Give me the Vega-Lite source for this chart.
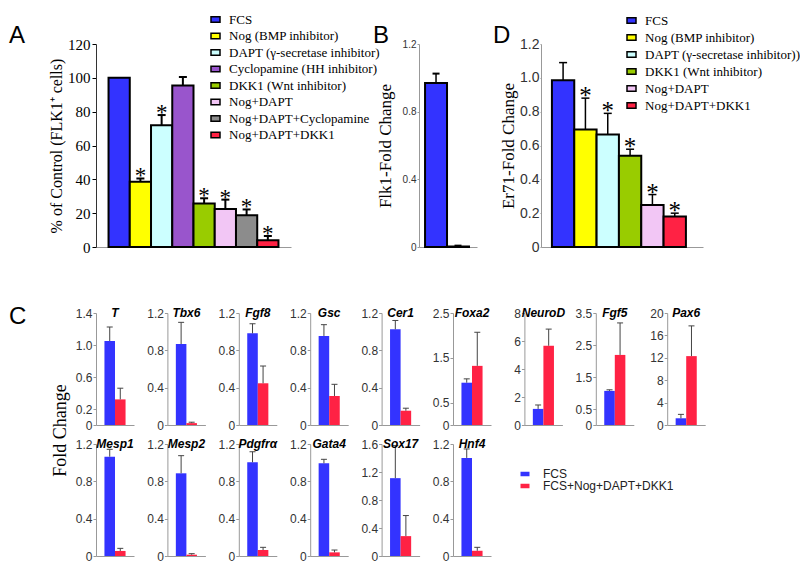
{
  "$schema": "https://vega.github.io/schema/vega-lite/v6.json",
  "background": "white",
  "padding": {"left": 9, "top": 11, "right": 5, "bottom": 5},
  "spacing": 50,
  "resolve": {"scale": {"fill": "independent"}},
  "config": {
    "view": {"stroke": null},
    "font": "Liberation Sans",
    "axisX": {"labels": false, "ticks": false, "domainColor": "#999", "grid": false},
    "axisY": {"grid": false, "labelFont": "Liberation Sans", "labelFontSize": 12, "labelColor": "#333", "tickSize": 3, "tickColor": "#999", "domainColor": "#999", "labelPadding": 1, "labelOverlap": false},
    "title": {"font": "Liberation Sans", "fontSize": 12, "fontWeight": "bold", "fontStyle": "italic", "color": "black", "anchor": "middle", "frame": "group", "offset": -13},
    "legend": {"padding": 0, "rowPadding": 0}
  },
  "datasets": {
    "A": [
      {"cond": "FCS", "value": 100, "err": null, "sig": false},
      {"cond": "Nog (BMP inhibitor)", "value": 38.5, "err": 40.5, "sig": true},
      {"cond": "DAPT (γ-secretase inhibitor)", "value": 72, "err": 78, "sig": true},
      {"cond": "Cyclopamine (HH inhibitor)", "value": 95.5, "err": 100.5, "sig": false},
      {"cond": "DKK1 (Wnt inhibitor)", "value": 25.7, "err": 28.8, "sig": true},
      {"cond": "Nog+DAPT", "value": 22.5, "err": 28, "sig": true},
      {"cond": "Nog+DAPT+Cyclopamine", "value": 18.8, "err": 22.2, "sig": true},
      {"cond": "Nog+DAPT+DKK1", "value": 4, "err": 6.5, "sig": true}
    ],
    "B": [
      {"cond": "FCS", "value": 0.97, "err": 1.025},
      {"cond": "Nog+DAPT+DKK1", "value": 0.003, "err": 0.008}
    ],
    "D": [
      {"cond": "FCS", "value": 0.985, "err": 1.09, "sig": false},
      {"cond": "Nog (BMP inhibitor)", "value": 0.695, "err": 0.88, "sig": true},
      {"cond": "DAPT (γ-secretase inhibitor))", "value": 0.665, "err": 0.79, "sig": true},
      {"cond": "DKK1 (Wnt inhibitor)", "value": 0.54, "err": 0.578, "sig": true},
      {"cond": "Nog+DAPT", "value": 0.248, "err": 0.31, "sig": true},
      {"cond": "Nog+DAPT+DKK1", "value": 0.18, "err": 0.2, "sig": true}
    ],
    "C": [
      {"gene": "T", "grp": "FCS", "value": 1.05, "err": 1.225},
      {"gene": "T", "grp": "FCS+Nog+DAPT+DKK1", "value": 0.32, "err": 0.46},
      {"gene": "Tbx6", "grp": "FCS", "value": 0.868, "err": 1.1},
      {"gene": "Tbx6", "grp": "FCS+Nog+DAPT+DKK1", "value": 0.02, "err": 0.03},
      {"gene": "Fgf8", "grp": "FCS", "value": 0.982, "err": 1.085},
      {"gene": "Fgf8", "grp": "FCS+Nog+DAPT+DKK1", "value": 0.447, "err": 0.632},
      {"gene": "Gsc", "grp": "FCS", "value": 0.954, "err": 1.075},
      {"gene": "Gsc", "grp": "FCS+Nog+DAPT+DKK1", "value": 0.311, "err": 0.436},
      {"gene": "Cer1", "grp": "FCS", "value": 1.025, "err": 1.12},
      {"gene": "Cer1", "grp": "FCS+Nog+DAPT+DKK1", "value": 0.153, "err": 0.18},
      {"gene": "Foxa2", "grp": "FCS", "value": 0.944, "err": 1.03},
      {"gene": "Foxa2", "grp": "FCS+Nog+DAPT+DKK1", "value": 1.32, "err": 2.07},
      {"gene": "NeuroD", "grp": "FCS", "value": 1.15, "err": 1.43},
      {"gene": "NeuroD", "grp": "FCS+Nog+DAPT+DKK1", "value": 5.66, "err": 6.85},
      {"gene": "Fgf5", "grp": "FCS", "value": 1.066, "err": 1.1},
      {"gene": "Fgf5", "grp": "FCS+Nog+DAPT+DKK1", "value": 2.19, "err": 3.19},
      {"gene": "Pax6", "grp": "FCS", "value": 1.2, "err": 1.9},
      {"gene": "Pax6", "grp": "FCS+Nog+DAPT+DKK1", "value": 12.3, "err": 17.7},
      {"gene": "Mesp1", "grp": "FCS", "value": 1.064, "err": 1.143},
      {"gene": "Mesp1", "grp": "FCS+Nog+DAPT+DKK1", "value": 0.054, "err": 0.082},
      {"gene": "Mesp2", "grp": "FCS", "value": 0.886, "err": 1.075},
      {"gene": "Mesp2", "grp": "FCS+Nog+DAPT+DKK1", "value": 0.014, "err": 0.025},
      {"gene": "Pdgfrα", "grp": "FCS", "value": 1.004, "err": 1.118},
      {"gene": "Pdgfrα", "grp": "FCS+Nog+DAPT+DKK1", "value": 0.064, "err": 0.093},
      {"gene": "Gata4", "grp": "FCS", "value": 0.993, "err": 1.036},
      {"gene": "Gata4", "grp": "FCS+Nog+DAPT+DKK1", "value": 0.039, "err": 0.064},
      {"gene": "Sox17", "grp": "FCS", "value": 1.112, "err": 1.577},
      {"gene": "Sox17", "grp": "FCS+Nog+DAPT+DKK1", "value": 0.284, "err": 0.578},
      {"gene": "Hnf4", "grp": "FCS", "value": 1.051, "err": 1.147},
      {"gene": "Hnf4", "grp": "FCS+Nog+DAPT+DKK1", "value": 0.056, "err": 0.093}
    ]
  },
  "vconcat": [
    {
      "spacing": 10, "bounds": "flush",
      "resolve": {"scale": {"fill": "independent"}},
      "hconcat": [
        {
          "width": 195, "height": 203,
          "data": {"name": "A"},
          "title": {"text": "A", "anchor": "start", "frame": "group", "dx": -87, "offset": -37, "font": "Liberation Sans", "fontSize": 24, "fontWeight": "normal", "fontStyle": "normal"},
          "encoding": {"x": {"field": "cond", "type": "nominal", "sort": null, "scale": {"paddingInner": 0, "paddingOuter": 0.59}, "axis": {"title": null}}},
          "layer": [
            {
              "mark": {"type": "bar", "stroke": "black", "strokeWidth": 2},
              "encoding": {
                "y": {"field": "value", "type": "quantitative", "scale": {"domain": [0, 120], "nice": false},
                  "axis": {"values": [0, 20, 40, 60, 80, 100, 120], "tickCount": 50, "labelOverlap": false, "labelFont": "Liberation Serif", "labelFontSize": 15, "labelColor": "black", "tickColor": "black", "domainColor": "#333", "tickSize": 4, "labelPadding": 2,
                    "title": "% of Control (FLK1⁺ cells)", "titleFont": "Liberation Serif", "titleFontSize": 16, "titleFontWeight": "normal", "titleColor": "black", "titlePadding": 3}},
                "fill": {"field": "cond", "type": "nominal", "sort": null,
                  "scale": {"domain": ["FCS", "Nog (BMP inhibitor)", "DAPT (γ-secretase inhibitor)", "Cyclopamine (HH inhibitor)", "DKK1 (Wnt inhibitor)", "Nog+DAPT", "Nog+DAPT+Cyclopamine", "Nog+DAPT+DKK1"],
                    "range": ["#3333ff", "#ffff00", "#ccffff", "#9955cc", "#99cc00", "#f2c6f5", "#8c8c8c", "#ff2244"]},
                  "legend": {"orient": "none", "direction": "vertical", "legendX": 111, "legendY": -33, "title": null, "symbolType": "M-0.6,-0.36H0.6V0.36H-0.6Z", "symbolSize": 225, "symbolStrokeColor": "black", "symbolStrokeWidth": 1.5, "labelFont": "Liberation Serif", "labelFontSize": 13, "labelColor": "black", "labelOffset": 5, "rowPadding": 0.5, "labelLimit": 300}}
              }
            },
            {
              "transform": [{"filter": "datum.err != null"}],
              "mark": {"type": "rule", "color": "black", "strokeWidth": 2},
              "encoding": {"y": {"field": "value", "type": "quantitative"}, "y2": {"field": "err"}}
            },
            {
              "transform": [{"filter": "datum.err != null"}],
              "mark": {"type": "tick", "color": "black", "size": 8, "thickness": 2, "opacity": 1},
              "encoding": {"y": {"field": "err", "type": "quantitative"}}
            },
            {
              "transform": [{"filter": "datum.sig"}],
              "mark": {"type": "text", "text": "*", "font": "Liberation Serif", "fontSize": 23, "baseline": "alphabetic", "dy": 5, "color": "black"},
              "encoding": {"y": {"field": "err", "type": "quantitative"}}
            }
          ]
        },
        {"width": 108, "height": 203, "data": {"values": []}, "mark": "point"},
        {
          "width": 58, "height": 203,
          "data": {"name": "B"},
          "title": {"text": "B", "anchor": "start", "frame": "group", "dx": -46, "offset": -9, "font": "Liberation Sans", "fontSize": 24, "fontWeight": "normal", "fontStyle": "normal"},
          "encoding": {"x": {"field": "cond", "type": "nominal", "sort": null, "scale": {"paddingInner": 0, "paddingOuter": 0.32, "align": 0.43}, "axis": {"title": null}}},
          "layer": [
            {
              "mark": {"type": "bar", "stroke": "black", "strokeWidth": 2},
              "encoding": {
                "y": {"field": "value", "type": "quantitative", "scale": {"domain": [0, 1.2], "nice": false},
                  "axis": {"values": [0, 0.4, 0.8, 1.2], "tickCount": 50, "labelOverlap": false, "format": ".1f", "labelExpr": "datum.value === 0 ? '0' : datum.label", "labelFontSize": 10, "tickSize": 2, "labelPadding": 1,
                    "title": "Flk1-Fold Change", "titleFont": "Liberation Serif", "titleFontSize": 17, "titleFontWeight": "normal", "titleColor": "black", "titlePadding": 8}},
                "fill": {"field": "cond", "type": "nominal", "sort": null, "scale": {"domain": ["FCS", "Nog+DAPT+DKK1"], "range": ["#3333ff", "#ff2244"]}, "legend": null}
              }
            },
            {
              "mark": {"type": "rule", "color": "black", "strokeWidth": 1.5},
              "encoding": {"y": {"field": "value", "type": "quantitative"}, "y2": {"field": "err"}}
            },
            {
              "mark": {"type": "tick", "color": "black", "size": 7, "thickness": 2, "opacity": 1},
              "encoding": {"y": {"field": "err", "type": "quantitative"}}
            }
          ]
        },
        {"width": 44, "height": 203, "data": {"values": []}, "mark": "point"},
        {
          "width": 162, "height": 203,
          "data": {"name": "D"},
          "title": {"text": "D", "anchor": "start", "frame": "group", "dx": -48, "offset": -36, "font": "Liberation Sans", "fontSize": 24, "fontWeight": "normal", "fontStyle": "normal"},
          "encoding": {"x": {"field": "cond", "type": "nominal", "sort": null, "scale": {"paddingInner": 0, "paddingOuter": 0.627, "align": 0.39}, "axis": {"title": null}}},
          "layer": [
            {
              "mark": {"type": "bar", "stroke": "black", "strokeWidth": 2},
              "encoding": {
                "y": {"field": "value", "type": "quantitative", "scale": {"domain": [0, 1.2], "nice": false},
                  "axis": {"values": [0, 0.2, 0.4, 0.6, 0.8, 1, 1.2], "tickCount": 50, "labelOverlap": false, "format": ".1f", "labelExpr": "datum.value === 0 ? '0' : datum.label", "labelFontSize": 14, "tickSize": 1, "labelPadding": 1,
                    "title": "Er71-Fold Change", "titleFont": "Liberation Serif", "titleFontSize": 17, "titleFontWeight": "normal", "titleColor": "black", "titlePadding": 2}},
                "fill": {"field": "cond", "type": "nominal", "sort": null,
                  "scale": {"domain": ["FCS", "Nog (BMP inhibitor)", "DAPT (γ-secretase inhibitor))", "DKK1 (Wnt inhibitor)", "Nog+DAPT", "Nog+DAPT+DKK1"],
                    "range": ["#3333ff", "#ffff00", "#ccffff", "#99cc00", "#f2c6f5", "#ff2244"]},
                  "legend": {"orient": "none", "direction": "vertical", "legendX": 82, "legendY": -32, "title": null, "symbolType": "M-0.6,-0.36H0.6V0.36H-0.6Z", "symbolSize": 225, "symbolStrokeColor": "black", "symbolStrokeWidth": 1.5, "labelFont": "Liberation Serif", "labelFontSize": 13, "labelColor": "black", "labelOffset": 5, "rowPadding": 1, "labelLimit": 300}}
              }
            },
            {
              "mark": {"type": "rule", "color": "black", "strokeWidth": 1.5},
              "encoding": {"y": {"field": "value", "type": "quantitative"}, "y2": {"field": "err"}}
            },
            {
              "mark": {"type": "tick", "color": "black", "size": 8, "thickness": 1.5, "opacity": 1},
              "encoding": {"y": {"field": "err", "type": "quantitative"}}
            },
            {
              "transform": [{"filter": "datum.sig"}],
              "mark": {"type": "text", "text": "*", "font": "Liberation Serif", "fontSize": 25, "baseline": "alphabetic", "dy": 6, "color": "black"},
              "encoding": {"y": {"field": "err", "type": "quantitative"}}
            }
          ]
        }
      ]
    },
    {
      "data": {"name": "C"},
      "title": {"text": "C", "anchor": "start", "frame": "group", "dx": -87, "offset": -22, "font": "Liberation Sans", "fontSize": 24, "fontWeight": "normal", "fontStyle": "normal"},
      "columns": 9,
      "spacing": {"row": 19, "column": 33.4},
      "bounds": "flush",
      "concat": [
        {"width": 38, "height": 112, "title": {"text": "T"}, "transform": [{"filter": "datum.gene === 'T'"}],
          "encoding": {"x": {"field": "grp", "type": "nominal", "sort": null, "scale": {"paddingInner": 0, "paddingOuter": 0.8}, "axis": {"title": null}}},
          "layer": [
            {"mark": "bar", "encoding": {"y": {"field": "value", "type": "quantitative", "scale": {"domain": [0, 1.4], "nice": false},
                "axis": {"values": [0, 0.2, 0.6, 1, 1.4], "tickCount": 50, "labelOverlap": false, "format": ".1f", "labelExpr": "datum.value === 0 ? '0' : datum.label",
                  "title": "Fold Change", "titleFont": "Liberation Serif", "titleFontSize": 18, "titleFontWeight": "normal", "titleColor": "black", "titleAngle": -90, "titleAlign": "center", "titleBaseline": "middle", "titleX": -36, "titleY": 117}},
              "fill": {"field": "grp", "type": "nominal", "sort": null, "scale": {"domain": ["FCS", "FCS+Nog+DAPT+DKK1"], "range": ["#3333ff", "#ff2244"]},
                "legend": {"orient": "none", "direction": "vertical", "legendX": 423, "legendY": 155, "title": null, "symbolType": "M-0.75,-0.375H0.75V0.375H-0.75Z", "symbolSize": 144, "symbolStrokeWidth": 0, "labelFont": "Liberation Sans", "labelFontSize": 12, "labelColor": "#222", "labelOffset": 12, "rowPadding": 0, "labelLimit": 300}}}},
            {"mark": {"type": "rule", "color": "#444", "strokeWidth": 1}, "encoding": {"y": {"field": "value", "type": "quantitative"}, "y2": {"field": "err"}}},
            {"mark": {"type": "tick", "color": "#444", "size": 6, "thickness": 1, "opacity": 1}, "encoding": {"y": {"field": "err", "type": "quantitative"}}}
          ]},
        {"width": 38, "height": 112, "title": {"text": "Tbx6"}, "transform": [{"filter": "datum.gene === 'Tbx6'"}],
          "encoding": {"x": {"field": "grp", "type": "nominal", "sort": null, "scale": {"paddingInner": 0, "paddingOuter": 0.8}, "axis": {"title": null}}},
          "layer": [
            {"mark": "bar", "encoding": {"y": {"field": "value", "type": "quantitative", "scale": {"domain": [0, 1.2], "nice": false}, "axis": {"title": null, "values": [0, 0.4, 0.8, 1.2], "tickCount": 50, "labelOverlap": false, "format": ".1f", "labelExpr": "datum.value === 0 ? '0' : datum.label"}},
              "fill": {"field": "grp", "type": "nominal", "sort": null, "scale": {"domain": ["FCS", "FCS+Nog+DAPT+DKK1"], "range": ["#3333ff", "#ff2244"]}}}},
            {"mark": {"type": "rule", "color": "#444", "strokeWidth": 1}, "encoding": {"y": {"field": "value", "type": "quantitative"}, "y2": {"field": "err"}}},
            {"mark": {"type": "tick", "color": "#444", "size": 6, "thickness": 1, "opacity": 1}, "encoding": {"y": {"field": "err", "type": "quantitative"}}}
          ]},
        {"width": 38, "height": 112, "title": {"text": "Fgf8"}, "transform": [{"filter": "datum.gene === 'Fgf8'"}],
          "encoding": {"x": {"field": "grp", "type": "nominal", "sort": null, "scale": {"paddingInner": 0, "paddingOuter": 0.8}, "axis": {"title": null}}},
          "layer": [
            {"mark": "bar", "encoding": {"y": {"field": "value", "type": "quantitative", "scale": {"domain": [0, 1.2], "nice": false}, "axis": {"title": null, "values": [0, 0.4, 0.8, 1.2], "tickCount": 50, "labelOverlap": false, "format": ".1f", "labelExpr": "datum.value === 0 ? '0' : datum.label"}},
              "fill": {"field": "grp", "type": "nominal", "sort": null, "scale": {"domain": ["FCS", "FCS+Nog+DAPT+DKK1"], "range": ["#3333ff", "#ff2244"]}}}},
            {"mark": {"type": "rule", "color": "#444", "strokeWidth": 1}, "encoding": {"y": {"field": "value", "type": "quantitative"}, "y2": {"field": "err"}}},
            {"mark": {"type": "tick", "color": "#444", "size": 6, "thickness": 1, "opacity": 1}, "encoding": {"y": {"field": "err", "type": "quantitative"}}}
          ]},
        {"width": 38, "height": 112, "title": {"text": "Gsc"}, "transform": [{"filter": "datum.gene === 'Gsc'"}],
          "encoding": {"x": {"field": "grp", "type": "nominal", "sort": null, "scale": {"paddingInner": 0, "paddingOuter": 0.8}, "axis": {"title": null}}},
          "layer": [
            {"mark": "bar", "encoding": {"y": {"field": "value", "type": "quantitative", "scale": {"domain": [0, 1.2], "nice": false}, "axis": {"title": null, "values": [0, 0.4, 0.8, 1.2], "tickCount": 50, "labelOverlap": false, "format": ".1f", "labelExpr": "datum.value === 0 ? '0' : datum.label"}},
              "fill": {"field": "grp", "type": "nominal", "sort": null, "scale": {"domain": ["FCS", "FCS+Nog+DAPT+DKK1"], "range": ["#3333ff", "#ff2244"]}}}},
            {"mark": {"type": "rule", "color": "#444", "strokeWidth": 1}, "encoding": {"y": {"field": "value", "type": "quantitative"}, "y2": {"field": "err"}}},
            {"mark": {"type": "tick", "color": "#444", "size": 6, "thickness": 1, "opacity": 1}, "encoding": {"y": {"field": "err", "type": "quantitative"}}}
          ]},
        {"width": 38, "height": 112, "title": {"text": "Cer1"}, "transform": [{"filter": "datum.gene === 'Cer1'"}],
          "encoding": {"x": {"field": "grp", "type": "nominal", "sort": null, "scale": {"paddingInner": 0, "paddingOuter": 0.8}, "axis": {"title": null}}},
          "layer": [
            {"mark": "bar", "encoding": {"y": {"field": "value", "type": "quantitative", "scale": {"domain": [0, 1.2], "nice": false}, "axis": {"title": null, "values": [0, 0.4, 0.8, 1.2], "tickCount": 50, "labelOverlap": false, "format": ".1f", "labelExpr": "datum.value === 0 ? '0' : datum.label"}},
              "fill": {"field": "grp", "type": "nominal", "sort": null, "scale": {"domain": ["FCS", "FCS+Nog+DAPT+DKK1"], "range": ["#3333ff", "#ff2244"]}}}},
            {"mark": {"type": "rule", "color": "#444", "strokeWidth": 1}, "encoding": {"y": {"field": "value", "type": "quantitative"}, "y2": {"field": "err"}}},
            {"mark": {"type": "tick", "color": "#444", "size": 6, "thickness": 1, "opacity": 1}, "encoding": {"y": {"field": "err", "type": "quantitative"}}}
          ]},
        {"width": 38, "height": 112, "title": {"text": "Foxa2"}, "transform": [{"filter": "datum.gene === 'Foxa2'"}],
          "encoding": {"x": {"field": "grp", "type": "nominal", "sort": null, "scale": {"paddingInner": 0, "paddingOuter": 0.8}, "axis": {"title": null}}},
          "layer": [
            {"mark": "bar", "encoding": {"y": {"field": "value", "type": "quantitative", "scale": {"domain": [0, 2.5], "nice": false}, "axis": {"title": null, "values": [0, 0.5, 1.5, 2.5], "tickCount": 50, "labelOverlap": false, "format": ".1f", "labelExpr": "datum.value === 0 ? '0' : datum.label"}},
              "fill": {"field": "grp", "type": "nominal", "sort": null, "scale": {"domain": ["FCS", "FCS+Nog+DAPT+DKK1"], "range": ["#3333ff", "#ff2244"]}}}},
            {"mark": {"type": "rule", "color": "#444", "strokeWidth": 1}, "encoding": {"y": {"field": "value", "type": "quantitative"}, "y2": {"field": "err"}}},
            {"mark": {"type": "tick", "color": "#444", "size": 6, "thickness": 1, "opacity": 1}, "encoding": {"y": {"field": "err", "type": "quantitative"}}}
          ]},
        {"width": 38, "height": 112, "title": {"text": "NeuroD"}, "transform": [{"filter": "datum.gene === 'NeuroD'"}],
          "encoding": {"x": {"field": "grp", "type": "nominal", "sort": null, "scale": {"paddingInner": 0, "paddingOuter": 0.8}, "axis": {"title": null}}},
          "layer": [
            {"mark": "bar", "encoding": {"y": {"field": "value", "type": "quantitative", "scale": {"domain": [0, 8], "nice": false}, "axis": {"title": null, "values": [0, 2, 4, 6, 8], "tickCount": 50, "labelOverlap": false, "format": "d"}},
              "fill": {"field": "grp", "type": "nominal", "sort": null, "scale": {"domain": ["FCS", "FCS+Nog+DAPT+DKK1"], "range": ["#3333ff", "#ff2244"]}}}},
            {"mark": {"type": "rule", "color": "#444", "strokeWidth": 1}, "encoding": {"y": {"field": "value", "type": "quantitative"}, "y2": {"field": "err"}}},
            {"mark": {"type": "tick", "color": "#444", "size": 6, "thickness": 1, "opacity": 1}, "encoding": {"y": {"field": "err", "type": "quantitative"}}}
          ]},
        {"width": 38, "height": 112, "title": {"text": "Fgf5"}, "transform": [{"filter": "datum.gene === 'Fgf5'"}],
          "encoding": {"x": {"field": "grp", "type": "nominal", "sort": null, "scale": {"paddingInner": 0, "paddingOuter": 0.8}, "axis": {"title": null}}},
          "layer": [
            {"mark": "bar", "encoding": {"y": {"field": "value", "type": "quantitative", "scale": {"domain": [0, 3.5], "nice": false}, "axis": {"title": null, "values": [0, 0.5, 1.5, 2.5, 3.5], "tickCount": 50, "labelOverlap": false, "format": ".1f", "labelExpr": "datum.value === 0 ? '0' : datum.label"}},
              "fill": {"field": "grp", "type": "nominal", "sort": null, "scale": {"domain": ["FCS", "FCS+Nog+DAPT+DKK1"], "range": ["#3333ff", "#ff2244"]}}}},
            {"mark": {"type": "rule", "color": "#444", "strokeWidth": 1}, "encoding": {"y": {"field": "value", "type": "quantitative"}, "y2": {"field": "err"}}},
            {"mark": {"type": "tick", "color": "#444", "size": 6, "thickness": 1, "opacity": 1}, "encoding": {"y": {"field": "err", "type": "quantitative"}}}
          ]},
        {"width": 38, "height": 112, "title": {"text": "Pax6"}, "transform": [{"filter": "datum.gene === 'Pax6'"}],
          "encoding": {"x": {"field": "grp", "type": "nominal", "sort": null, "scale": {"paddingInner": 0, "paddingOuter": 0.8}, "axis": {"title": null}}},
          "layer": [
            {"mark": "bar", "encoding": {"y": {"field": "value", "type": "quantitative", "scale": {"domain": [0, 20], "nice": false}, "axis": {"title": null, "values": [0, 4, 8, 12, 16, 20], "tickCount": 50, "labelOverlap": false, "format": "d"}},
              "fill": {"field": "grp", "type": "nominal", "sort": null, "scale": {"domain": ["FCS", "FCS+Nog+DAPT+DKK1"], "range": ["#3333ff", "#ff2244"]}}}},
            {"mark": {"type": "rule", "color": "#444", "strokeWidth": 1}, "encoding": {"y": {"field": "value", "type": "quantitative"}, "y2": {"field": "err"}}},
            {"mark": {"type": "tick", "color": "#444", "size": 6, "thickness": 1, "opacity": 1}, "encoding": {"y": {"field": "err", "type": "quantitative"}}}
          ]},
        {"width": 38, "height": 112, "title": {"text": "Mesp1"}, "transform": [{"filter": "datum.gene === 'Mesp1'"}],
          "encoding": {"x": {"field": "grp", "type": "nominal", "sort": null, "scale": {"paddingInner": 0, "paddingOuter": 0.8}, "axis": {"title": null}}},
          "layer": [
            {"mark": "bar", "encoding": {"y": {"field": "value", "type": "quantitative", "scale": {"domain": [0, 1.2], "nice": false}, "axis": {"title": null, "values": [0, 0.4, 0.8, 1.2], "tickCount": 50, "labelOverlap": false, "format": ".1f", "labelExpr": "datum.value === 0 ? '0' : datum.label"}},
              "fill": {"field": "grp", "type": "nominal", "sort": null, "scale": {"domain": ["FCS", "FCS+Nog+DAPT+DKK1"], "range": ["#3333ff", "#ff2244"]}}}},
            {"mark": {"type": "rule", "color": "#444", "strokeWidth": 1}, "encoding": {"y": {"field": "value", "type": "quantitative"}, "y2": {"field": "err"}}},
            {"mark": {"type": "tick", "color": "#444", "size": 6, "thickness": 1, "opacity": 1}, "encoding": {"y": {"field": "err", "type": "quantitative"}}}
          ]},
        {"width": 38, "height": 112, "title": {"text": "Mesp2"}, "transform": [{"filter": "datum.gene === 'Mesp2'"}],
          "encoding": {"x": {"field": "grp", "type": "nominal", "sort": null, "scale": {"paddingInner": 0, "paddingOuter": 0.8}, "axis": {"title": null}}},
          "layer": [
            {"mark": "bar", "encoding": {"y": {"field": "value", "type": "quantitative", "scale": {"domain": [0, 1.2], "nice": false}, "axis": {"title": null, "values": [0, 0.4, 0.8, 1.2], "tickCount": 50, "labelOverlap": false, "format": ".1f", "labelExpr": "datum.value === 0 ? '0' : datum.label"}},
              "fill": {"field": "grp", "type": "nominal", "sort": null, "scale": {"domain": ["FCS", "FCS+Nog+DAPT+DKK1"], "range": ["#3333ff", "#ff2244"]}}}},
            {"mark": {"type": "rule", "color": "#444", "strokeWidth": 1}, "encoding": {"y": {"field": "value", "type": "quantitative"}, "y2": {"field": "err"}}},
            {"mark": {"type": "tick", "color": "#444", "size": 6, "thickness": 1, "opacity": 1}, "encoding": {"y": {"field": "err", "type": "quantitative"}}}
          ]},
        {"width": 38, "height": 112, "title": {"text": "Pdgfrα"}, "transform": [{"filter": "datum.gene === 'Pdgfrα'"}],
          "encoding": {"x": {"field": "grp", "type": "nominal", "sort": null, "scale": {"paddingInner": 0, "paddingOuter": 0.8}, "axis": {"title": null}}},
          "layer": [
            {"mark": "bar", "encoding": {"y": {"field": "value", "type": "quantitative", "scale": {"domain": [0, 1.2], "nice": false}, "axis": {"title": null, "values": [0, 0.4, 0.8, 1.2], "tickCount": 50, "labelOverlap": false, "format": ".1f", "labelExpr": "datum.value === 0 ? '0' : datum.label"}},
              "fill": {"field": "grp", "type": "nominal", "sort": null, "scale": {"domain": ["FCS", "FCS+Nog+DAPT+DKK1"], "range": ["#3333ff", "#ff2244"]}}}},
            {"mark": {"type": "rule", "color": "#444", "strokeWidth": 1}, "encoding": {"y": {"field": "value", "type": "quantitative"}, "y2": {"field": "err"}}},
            {"mark": {"type": "tick", "color": "#444", "size": 6, "thickness": 1, "opacity": 1}, "encoding": {"y": {"field": "err", "type": "quantitative"}}}
          ]},
        {"width": 38, "height": 112, "title": {"text": "Gata4"}, "transform": [{"filter": "datum.gene === 'Gata4'"}],
          "encoding": {"x": {"field": "grp", "type": "nominal", "sort": null, "scale": {"paddingInner": 0, "paddingOuter": 0.8}, "axis": {"title": null}}},
          "layer": [
            {"mark": "bar", "encoding": {"y": {"field": "value", "type": "quantitative", "scale": {"domain": [0, 1.2], "nice": false}, "axis": {"title": null, "values": [0, 0.4, 0.8, 1.2], "tickCount": 50, "labelOverlap": false, "format": ".1f", "labelExpr": "datum.value === 0 ? '0' : datum.label"}},
              "fill": {"field": "grp", "type": "nominal", "sort": null, "scale": {"domain": ["FCS", "FCS+Nog+DAPT+DKK1"], "range": ["#3333ff", "#ff2244"]}}}},
            {"mark": {"type": "rule", "color": "#444", "strokeWidth": 1}, "encoding": {"y": {"field": "value", "type": "quantitative"}, "y2": {"field": "err"}}},
            {"mark": {"type": "tick", "color": "#444", "size": 6, "thickness": 1, "opacity": 1}, "encoding": {"y": {"field": "err", "type": "quantitative"}}}
          ]},
        {"width": 38, "height": 112, "title": {"text": "Sox17"}, "transform": [{"filter": "datum.gene === 'Sox17'"}],
          "encoding": {"x": {"field": "grp", "type": "nominal", "sort": null, "scale": {"paddingInner": 0, "paddingOuter": 0.8}, "axis": {"title": null}}},
          "layer": [
            {"mark": "bar", "encoding": {"y": {"field": "value", "type": "quantitative", "scale": {"domain": [0, 1.6], "nice": false}, "axis": {"title": null, "values": [0, 0.4, 0.8, 1.2, 1.6], "tickCount": 50, "labelOverlap": false, "format": ".1f", "labelExpr": "datum.value === 0 ? '0' : datum.label"}},
              "fill": {"field": "grp", "type": "nominal", "sort": null, "scale": {"domain": ["FCS", "FCS+Nog+DAPT+DKK1"], "range": ["#3333ff", "#ff2244"]}}}},
            {"mark": {"type": "rule", "color": "#444", "strokeWidth": 1}, "encoding": {"y": {"field": "value", "type": "quantitative"}, "y2": {"field": "err"}}},
            {"mark": {"type": "tick", "color": "#444", "size": 6, "thickness": 1, "opacity": 1}, "encoding": {"y": {"field": "err", "type": "quantitative"}}}
          ]},
        {"width": 38, "height": 112, "title": {"text": "Hnf4"}, "transform": [{"filter": "datum.gene === 'Hnf4'"}],
          "encoding": {"x": {"field": "grp", "type": "nominal", "sort": null, "scale": {"paddingInner": 0, "paddingOuter": 0.8}, "axis": {"title": null}}},
          "layer": [
            {"mark": "bar", "encoding": {"y": {"field": "value", "type": "quantitative", "scale": {"domain": [0, 1.2], "nice": false}, "axis": {"title": null, "values": [0, 0.4, 0.8, 1.2], "tickCount": 50, "labelOverlap": false, "format": ".1f", "labelExpr": "datum.value === 0 ? '0' : datum.label"}},
              "fill": {"field": "grp", "type": "nominal", "sort": null, "scale": {"domain": ["FCS", "FCS+Nog+DAPT+DKK1"], "range": ["#3333ff", "#ff2244"]}}}},
            {"mark": {"type": "rule", "color": "#444", "strokeWidth": 1}, "encoding": {"y": {"field": "value", "type": "quantitative"}, "y2": {"field": "err"}}},
            {"mark": {"type": "tick", "color": "#444", "size": 6, "thickness": 1, "opacity": 1}, "encoding": {"y": {"field": "err", "type": "quantitative"}}}
          ]}
      ]
    }
  ]
}
